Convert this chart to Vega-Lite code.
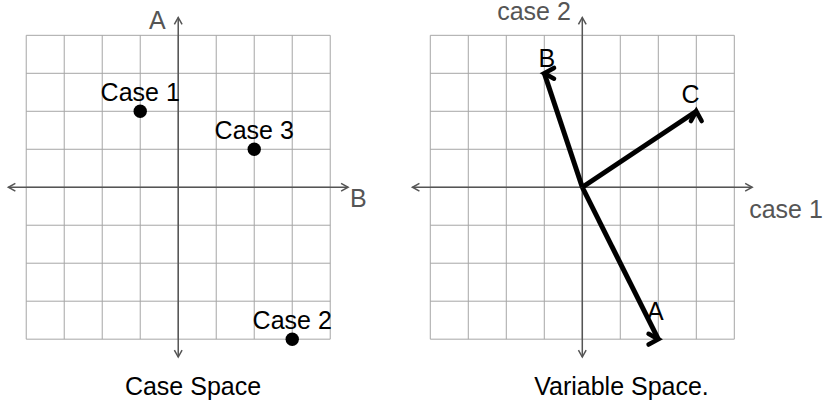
{
  "$schema": "https://vega.github.io/schema/vega-lite/v6.json",
  "padding": 0,
  "autosize": {"type": "pad"},
  "bounds": "flush",
  "spacing": 0,
  "config": {
    "view": {"stroke": null},
    "text": {"font": "Liberation Sans", "fontSize": 25},
    "title": {"font": "Liberation Sans", "fontSize": 25, "fontWeight": "normal", "color": "#000"}
  },
  "datasets": {
    "grid": [{"v": -4}, {"v": -3}, {"v": -2}, {"v": -1}, {"v": 0}, {"v": 1}, {"v": 2}, {"v": 3}, {"v": 4}],
    "axes": [{"x": -4.47, "y": 0, "x2": 4.47, "y2": 0}, {"x": 0, "y": -4.47, "x2": 0, "y2": 4.47}],
    "heads": [{"x": 4.47, "y": 0, "dir": "right"}, {"x": -4.47, "y": 0, "dir": "left"}, {"x": 0, "y": 4.47, "dir": "up"}, {"x": 0, "y": -4.47, "dir": "down"}],
    "left_axis_labels": [{"label": "B", "x": 4.74, "y": -0.52}, {"label": "A", "x": -0.55, "y": 4.16}],
    "right_axis_labels": [{"label": "case 1", "x": 5.36, "y": -0.82}, {"label": "case 2", "x": -1.27, "y": 4.41}],
    "cases": [{"case": "Case 1", "B": -1, "A": 2}, {"case": "Case 2", "B": 3, "A": -4}, {"case": "Case 3", "B": 2, "A": 1}],
    "variables": [
      {"variable": "A", "case1": 2, "case2": -4, "label_x": 1.92, "label_y": -3.49},
      {"variable": "B", "case1": -1, "case2": 3, "label_x": -0.93, "label_y": 3.17},
      {"variable": "C", "case1": 3, "case2": 2, "label_x": 2.85, "label_y": 2.23}
    ]
  },
  "hconcat": [
    {
      "width": 368,
      "height": 365,
      "title": {"text": "Case Space", "orient": "bottom", "anchor": "middle", "frame": "group", "offset": 10, "dx": 9},
      "layer": [
        {
          "data": {"name": "grid"},
          "mark": {"type": "rule", "color": "#a6a6a6", "strokeWidth": 1},
          "encoding": {
            "x": {"field": "v", "type": "quantitative", "scale": {"domain": [-4.69, 4.994], "nice": false, "zero": false}, "axis": null},
            "y": {"datum": -4, "type": "quantitative", "scale": {"domain": [-4.68, 4.93], "nice": false, "zero": false}, "axis": null},
            "y2": {"datum": 4}
          }
        },
        {
          "data": {"name": "grid"},
          "mark": {"type": "rule", "color": "#a6a6a6", "strokeWidth": 1},
          "encoding": {
            "y": {"field": "v", "type": "quantitative", "scale": {"domain": [-4.68, 4.93], "nice": false, "zero": false}, "axis": null},
            "x": {"datum": -4, "type": "quantitative", "scale": {"domain": [-4.69, 4.994], "nice": false, "zero": false}, "axis": null},
            "x2": {"datum": 4}
          }
        },
        {
          "data": {"name": "axes"},
          "mark": {"type": "rule", "color": "#555555", "strokeWidth": 1.5},
          "encoding": {
            "x": {"field": "x", "type": "quantitative", "scale": {"domain": [-4.69, 4.994], "nice": false, "zero": false}, "axis": null},
            "y": {"field": "y", "type": "quantitative", "scale": {"domain": [-4.68, 4.93], "nice": false, "zero": false}, "axis": null},
            "x2": {"field": "x2"},
            "y2": {"field": "y2"}
          }
        },
        {
          "data": {"name": "heads"},
          "mark": {"type": "point", "filled": false, "opacity": 1, "stroke": "#555555", "strokeWidth": 1.5, "size": 196},
          "encoding": {
            "x": {"field": "x", "type": "quantitative", "scale": {"domain": [-4.69, 4.994], "nice": false, "zero": false}, "axis": null},
            "y": {"field": "y", "type": "quantitative", "scale": {"domain": [-4.68, 4.93], "nice": false, "zero": false}, "axis": null},
            "shape": {"field": "dir", "type": "nominal", "legend": null, "scale": {"domain": ["right", "left", "up", "down"], "range": ["M-1,-0.55L0,0L-1,0.55", "M1,-0.55L0,0L1,0.55", "M-0.55,1L0,0L0.55,1", "M-0.55,-1L0,0L0.55,-1"]}}
          }
        },
        {
          "data": {"name": "left_axis_labels"},
          "mark": {"type": "text", "align": "center", "baseline": "alphabetic", "color": "#555555", "clip": true},
          "encoding": {
            "x": {"field": "x", "type": "quantitative", "scale": {"domain": [-4.69, 4.994], "nice": false, "zero": false}, "axis": null},
            "y": {"field": "y", "type": "quantitative", "scale": {"domain": [-4.68, 4.93], "nice": false, "zero": false}, "axis": null},
            "text": {"field": "label"}
          }
        },
        {
          "data": {"name": "cases"},
          "mark": {"type": "point", "filled": true, "opacity": 1, "color": "#000000", "size": 180, "shape": "circle"},
          "encoding": {
            "x": {"field": "B", "type": "quantitative", "scale": {"domain": [-4.69, 4.994], "nice": false, "zero": false}, "axis": null},
            "y": {"field": "A", "type": "quantitative", "scale": {"domain": [-4.68, 4.93], "nice": false, "zero": false}, "axis": null}
          }
        },
        {
          "data": {"name": "cases"},
          "mark": {"type": "text", "align": "center", "baseline": "alphabetic", "dy": -10, "color": "#000000"},
          "encoding": {
            "x": {"field": "B", "type": "quantitative", "scale": {"domain": [-4.69, 4.994], "nice": false, "zero": false}, "axis": null},
            "y": {"field": "A", "type": "quantitative", "scale": {"domain": [-4.68, 4.93], "nice": false, "zero": false}, "axis": null},
            "text": {"field": "case"}
          }
        }
      ]
    },
    {
      "width": 455,
      "height": 365,
      "title": {"text": "Variable Space.", "orient": "bottom", "anchor": "middle", "frame": "group", "offset": 10, "dx": 26},
      "layer": [
        {
          "data": {"name": "grid"},
          "mark": {"type": "rule", "color": "#a6a6a6", "strokeWidth": 1},
          "encoding": {
            "x": {"field": "v", "type": "quantitative", "scale": {"domain": [-5.639, 6.334], "nice": false, "zero": false}, "axis": null},
            "y": {"datum": -4, "type": "quantitative", "scale": {"domain": [-4.68, 4.93], "nice": false, "zero": false}, "axis": null},
            "y2": {"datum": 4}
          }
        },
        {
          "data": {"name": "grid"},
          "mark": {"type": "rule", "color": "#a6a6a6", "strokeWidth": 1},
          "encoding": {
            "y": {"field": "v", "type": "quantitative", "scale": {"domain": [-4.68, 4.93], "nice": false, "zero": false}, "axis": null},
            "x": {"datum": -4, "type": "quantitative", "scale": {"domain": [-5.639, 6.334], "nice": false, "zero": false}, "axis": null},
            "x2": {"datum": 4}
          }
        },
        {
          "data": {"name": "axes"},
          "mark": {"type": "rule", "color": "#555555", "strokeWidth": 1.5},
          "encoding": {
            "x": {"field": "x", "type": "quantitative", "scale": {"domain": [-5.639, 6.334], "nice": false, "zero": false}, "axis": null},
            "y": {"field": "y", "type": "quantitative", "scale": {"domain": [-4.68, 4.93], "nice": false, "zero": false}, "axis": null},
            "x2": {"field": "x2"},
            "y2": {"field": "y2"}
          }
        },
        {
          "data": {"name": "heads"},
          "mark": {"type": "point", "filled": false, "opacity": 1, "stroke": "#555555", "strokeWidth": 1.5, "size": 196},
          "encoding": {
            "x": {"field": "x", "type": "quantitative", "scale": {"domain": [-5.639, 6.334], "nice": false, "zero": false}, "axis": null},
            "y": {"field": "y", "type": "quantitative", "scale": {"domain": [-4.68, 4.93], "nice": false, "zero": false}, "axis": null},
            "shape": {"field": "dir", "type": "nominal", "legend": null, "scale": {"domain": ["right", "left", "up", "down"], "range": ["M-1,-0.55L0,0L-1,0.55", "M1,-0.55L0,0L1,0.55", "M-0.55,1L0,0L0.55,1", "M-0.55,-1L0,0L0.55,-1"]}}
          }
        },
        {
          "data": {"name": "right_axis_labels"},
          "mark": {"type": "text", "align": "center", "baseline": "alphabetic", "color": "#555555", "clip": true},
          "encoding": {
            "x": {"field": "x", "type": "quantitative", "scale": {"domain": [-5.639, 6.334], "nice": false, "zero": false}, "axis": null},
            "y": {"field": "y", "type": "quantitative", "scale": {"domain": [-4.68, 4.93], "nice": false, "zero": false}, "axis": null},
            "text": {"field": "label"}
          }
        },
        {
          "data": {"name": "variables"},
          "mark": {"type": "rule", "color": "#000000", "strokeWidth": 5, "strokeCap": "butt"},
          "encoding": {
            "x": {"field": "case1", "type": "quantitative", "scale": {"domain": [-5.639, 6.334], "nice": false, "zero": false}, "axis": null},
            "y": {"field": "case2", "type": "quantitative", "scale": {"domain": [-4.68, 4.93], "nice": false, "zero": false}, "axis": null},
            "x2": {"datum": 0},
            "y2": {"datum": 0}
          }
        },
        {
          "data": {"name": "variables"},
          "mark": {"type": "point", "filled": false, "opacity": 1, "stroke": "#000000", "strokeWidth": 4.5, "strokeCap": "round", "strokeJoin": "miter", "size": 380},
          "encoding": {
            "x": {"field": "case1", "type": "quantitative", "scale": {"domain": [-5.639, 6.334], "nice": false, "zero": false}, "axis": null},
            "y": {"field": "case2", "type": "quantitative", "scale": {"domain": [-4.68, 4.93], "nice": false, "zero": false}, "axis": null},
            "shape": {"field": "variable", "type": "nominal", "legend": null, "scale": {"domain": ["A", "B", "C"], "range": ["M0.4472,-1.3416L0,0L-1.3416,-0.4472", "M-0.6325,1.2649L0,0L1.2649,0.6325", "M-1.3868,-0.2774L0,0L-0.2774,1.3868"]}}
          }
        },
        {
          "data": {"name": "variables"},
          "mark": {"type": "text", "align": "center", "baseline": "alphabetic", "color": "#000000"},
          "encoding": {
            "x": {"field": "label_x", "type": "quantitative", "scale": {"domain": [-5.639, 6.334], "nice": false, "zero": false}, "axis": null},
            "y": {"field": "label_y", "type": "quantitative", "scale": {"domain": [-4.68, 4.93], "nice": false, "zero": false}, "axis": null},
            "text": {"field": "variable"}
          }
        }
      ]
    }
  ]
}
